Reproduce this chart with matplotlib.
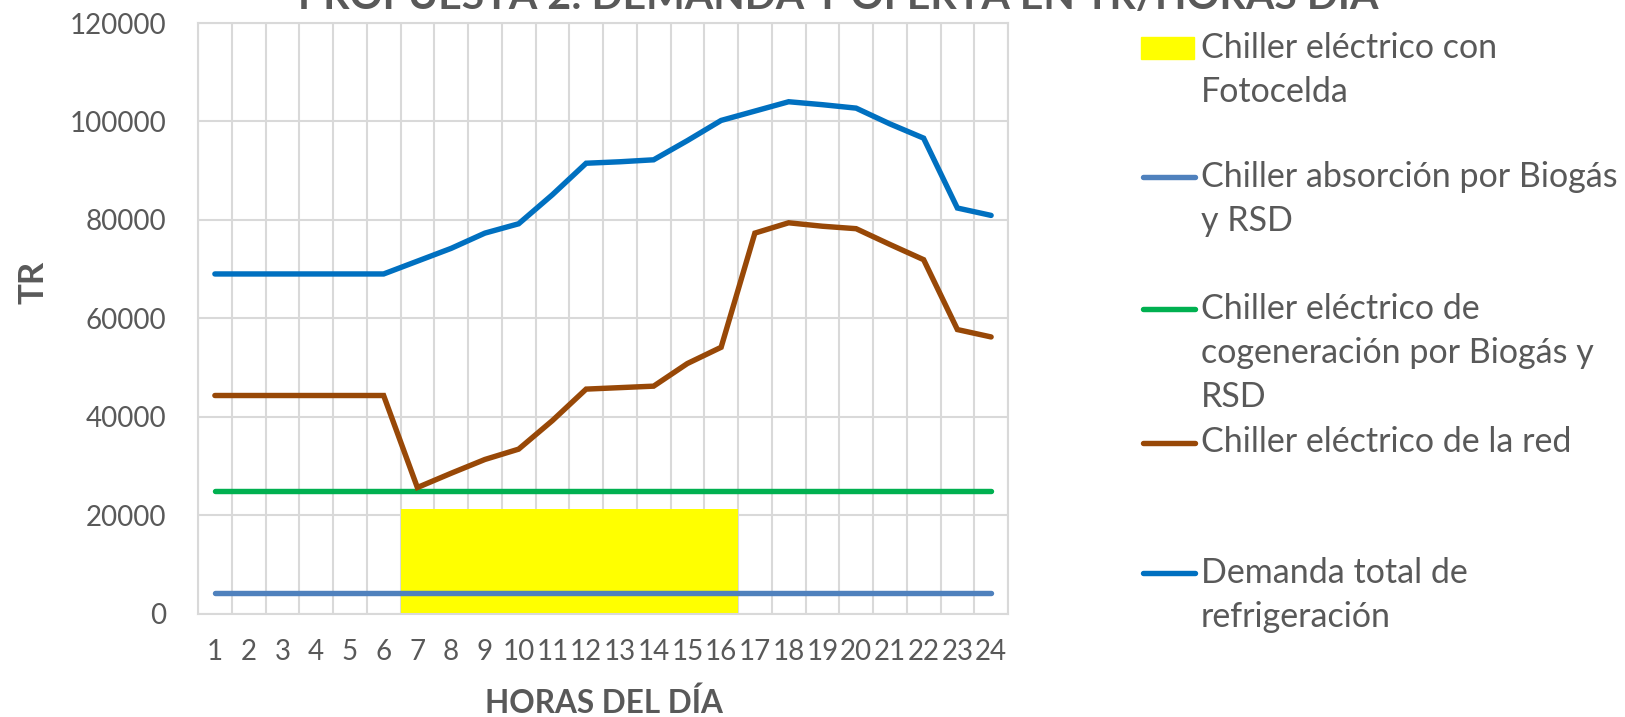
import matplotlib
matplotlib.use("Agg")
import matplotlib.pyplot as plt
from matplotlib.lines import Line2D
from matplotlib.patches import Rectangle
import numpy as np

plt.rcParams['font.family'] = ['Lato', 'DejaVu Sans']

# ── data ─────────────────────────────────────────────────────────────────────
hours = list(range(1, 25))
hour_labels = [str(h) for h in hours]

fotocelda = [0, 0, 0, 0, 0, 0,
             21300, 21300, 21300, 21300, 21300, 21300, 21300, 21300, 21300, 21300,
             0, 0, 0, 0, 0, 0, 0, 0]
absorcion = [4070] * 24
cogeneracion = [24800] * 24
red = [44300, 44300, 44300, 44300, 44300, 44300,
       25600, 28500, 31300, 33400, 39200, 45600, 45900, 46200, 50800, 54100,
       77300, 79400, 78700, 78200, 75000, 71900, 57700, 56200]
demanda = [69000, 69000, 69000, 69000, 69000, 69000,
           71600, 74200, 77300, 79200, 85100, 91500, 91800, 92200, 96100, 100200,
           102100, 104000, 103400, 102700, 99500, 96600, 82400, 80900]

y_ticks = [0, 20000, 40000, 60000, 80000, 100000, 120000]

legend_labels = [
    ["Chiller eléctrico con", "Fotocelda"],
    ["Chiller absorción por Biogás", "y RSD"],
    ["Chiller eléctrico de", "cogeneración por Biogás y", "RSD"],
    ["Chiller eléctrico de la red"],
    ["Demanda total de", "refrigeración"],
]

TITLE = "PROPUESTA 2: DEMANDA Y OFERTA EN TR/HORAS DÍA"

C_YELLOW = "#FFFF00"
C_ABS = "#4F81BD"
C_COG = "#00B050"
C_RED = "#984807"
C_DEM = "#0070C0"
C_TEXT = "#595959"
C_GRID = "#D9D9D9"

W, H = 1625, 717
fig = plt.figure(figsize=(W / 100, H / 100), dpi=100)
ax = fig.add_axes([198 / W, 1 - 613.5 / H, (1008 - 198) / W, (613.5 - 23) / H])

ax.bar(hours, fotocelda, width=1.0, color=C_YELLOW, zorder=2)
lw = 3.9
ax.plot(hours, absorcion, color=C_ABS, lw=lw, solid_capstyle='round', zorder=3)
ax.plot(hours, cogeneracion, color=C_COG, lw=lw, solid_capstyle='round', zorder=3)
ax.plot(hours, red, color=C_RED, lw=lw, solid_capstyle='round',
        solid_joinstyle='miter', zorder=4)
ax.plot(hours, demanda, color=C_DEM, lw=lw, solid_capstyle='round',
        solid_joinstyle='miter', zorder=5)

ax.set_xlim(0.5, 24.5)
ax.set_ylim(0, 120000)
ax.set_yticks(y_ticks)
ax.set_yticklabels([str(v) for v in y_ticks])
ax.set_xticks(hours)
ax.set_xticklabels(hour_labels)
ax.set_xticks(np.arange(0.5, 25, 1.0), minor=True)

ax.set_axisbelow(True)
ax.grid(axis='y', which='major', color=C_GRID, lw=1.5)
ax.grid(axis='x', which='minor', color=C_GRID, lw=1.5)
ax.grid(axis='x', which='major', visible=False)
for s in ax.spines.values():
    s.set_color(C_GRID)
    s.set_linewidth(1.5)
ax.tick_params(which='both', length=0)
ax.tick_params(axis='x', pad=18, labelsize=20, labelcolor=C_TEXT)
ax.tick_params(axis='y', pad=23, labelsize=20, labelcolor=C_TEXT)

# title sits partly above the canvas, as in the reference
fig.text(838 / W, 1 - 9 / H, TITLE, ha='center', va='baseline',
         fontsize=29.5, fontweight='bold', color=C_TEXT)
fig.text(604 / W, 1 - 703 / H, "HORAS DEL DÍA", ha='center', va='center',
         fontsize=22.7, fontweight='bold', color=C_TEXT)
fig.text(33 / W, 1 - 282 / H, "TR", ha='center', va='center', rotation=90,
         fontsize=25, fontweight='bold', color=C_TEXT)

# legend drawn by hand so handles line up with the first text line
handles = [('patch', C_YELLOW), ('line', C_ABS), ('line', C_COG),
           ('line', C_RED), ('line', C_DEM)]
entry_y = [47.7, 177, 309, 442.5, 573]
line_step = 44
for (kind, col), lines, y0 in zip(handles, legend_labels, entry_y):
    if kind == 'patch':
        fig.patches.append(Rectangle((1141 / W, 1 - (y0 + 11) / H), 53 / W, 22 / H,
                                     transform=fig.transFigure, color=col))
    else:
        fig.add_artist(Line2D([1143 / W, 1195 / W], [1 - y0 / H] * 2,
                              transform=fig.transFigure, color=col, lw=lw,
                              solid_capstyle='round'))
    for k, txt in enumerate(lines):
        fig.text(1201 / W, 1 - (y0 + k * line_step) / H, txt, ha='left',
                 va='center', fontsize=24.5, color=C_TEXT)

fig.savefig("out.png", dpi=100)
